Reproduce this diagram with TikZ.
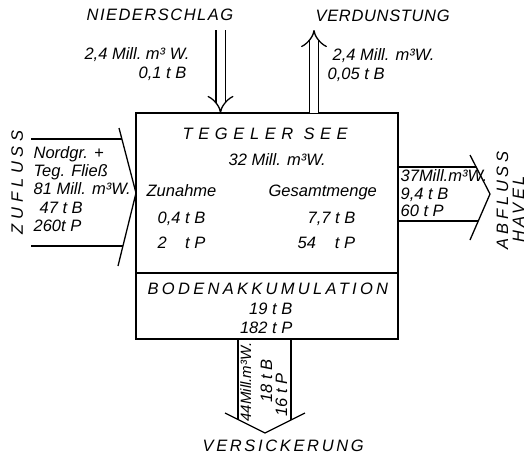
\documentclass[tikz,border=0pt]{standalone}
\usepackage{fontspec}
\setmainfont{Liberation Sans}
\usetikzlibrary{arrows.meta,positioning}
\newcommand{\spaced}[2]{{\addfontfeature{LetterSpace=#1}#2}}

\begin{document}
\begin{tikzpicture}[x=1pt, y=-1pt, line width=1.3pt, font=\fontsize{16.5}{19}\selectfont\itshape,
  lbl/.style={inner sep=0pt, anchor=base west},
  lblr/.style={inner sep=0pt, anchor=base east},
  upl/.style={inner sep=0pt, anchor=base west, rotate=90},
  box/.style={draw, inner sep=0pt, outer sep=0pt, anchor=north west},
  dblarr/.style={double, double distance=8pt, -{Implies}}]
\useasboundingbox (0,0) rectangle (527,456);

% See und Boden
\node[box, minimum width=262pt, minimum height=160pt] (see) at (136,113) {};
\node[box, minimum width=262pt, minimum height=66pt, anchor=north] (boden) at (see.south) {};

\node[lbl] (tegel) at (182,139) {\spaced{34}{TEGELER SEE}};
\node[lbl] (vol) at (228,165) {32 Mill. m³W.};
\node[lbl] (zun) at (146,196) {Zunahme};
\node[lbl] (ges) at (268,196) {Gesamtmenge};
\node[lbl] (zunb) at (157,223) {0,4 t B};
\node[lbl] (zunp) at (157,248) {2\phantom{,4} t P};
\node[lbl] (gesb) at (307,223) {7,7 t B};
\node[lbl] (gesp) at (297,248) {54\hspace{19pt}t P};

\node[lbl] (bak) at (147,294) {\spaced{20}{BODENAKKUMULATION}};
\node[lblr] (bakb) at (293,314) {19 t B};
\node[lblr] (bakp) at (293,333) {182 t P};

% Niederschlag / Verdunstung
\coordinate (nsk) at (220.5,30);
\coordinate (vdt) at (314,30);
\draw[dblarr] (nsk) -- (nsk |- see.north);
\draw[dblarr] (vdt |- see.north) -- (vdt);
\node[lbl] (ns) at (86,20) {\spaced{9}{NIEDERSCHLAG}};
\node[lbl] (vd) at (315,21) {\spaced{4}{VERDUNSTUNG}};
\node[lblr] (nsw) at (190,59) {2,4 Mill.\ m³\ W.};
\node[lblr] (nsb) at (187,78) {0,1 t B};
\node[lbl] (vdw) at (332,60) {2,4 Mill. m³W.};
\node[lbl] (vdb) at (327,79) {0,05 t B};

% Zufluss
\coordinate (zua) at (119,128);
\coordinate (zub) at (118,266);
\coordinate (zuo) at (122,139);
\coordinate (zuu) at (123,246);
\draw (zua) -- (see.west) -- (zub);
\draw (31,139) -- (zuo);
\draw (31,246) -- (zuu);
\node[upl] (zu) at (23,235) {\spaced{29}{ZUFLUSS}};
\node[lbl] (zu1) at (33,158) {Nordgr. +};
\node[lbl] (zu2) at (33,176) {Teg. Fließ};
\node[lbl] (zu3) at (33,194) {81 Mill. m³W.};
\node[lbl] (zu4) at (39,213) {47 t B};
\node[lbl] (zu5) at (33,231) {260t P};

% Abfluss
\coordinate (aba) at (470,155);
\coordinate (abt) at (490,194);
\coordinate (abb) at (470,240);
\coordinate (abo) at (476,167);
\coordinate (abu) at (478,221);
\draw (aba) -- (abt) -- (abb);
\draw (abo -| see.east) -- (abo);
\draw (abu -| see.east) -- (abu);
\node[lbl] (ab1) at (400,181) {37Mill.m³W.};
\node[lbl] (ab2) at (400,199) {9,4 t B};
\node[lbl] (ab3) at (400,216) {60 t P};
\node[upl] (abf) at (508,250) {\spaced{23}{ABFLUSS}};
\node[upl] (hav) at (524,243) {\spaced{19}{HAVEL}};

% Versickerung
\coordinate (vsa) at (225,413);
\coordinate (vst) at (265,433);
\coordinate (vsb) at (305,413);
\coordinate (vsl) at (238,419.5);
\coordinate (vsr) at (291,420);
\draw (vsl |- boden.south) -- (vsl);
\draw (vsr |- boden.south) -- (vsr);
\draw (vsa) -- (vst) -- (vsb);
\node[upl, font=\fontsize{15}{18}\selectfont\itshape] (vs1) at (251,422) {44Mill.m³W.};
\node[upl] (vs2) at (272,403) {18 t B};
\node[upl] (vs3) at (287,417) {16 t P};
\node[lbl] (vsk) at (202,451) {\spaced{16}{VERSICKERUNG}};
\end{tikzpicture}
\end{document}
